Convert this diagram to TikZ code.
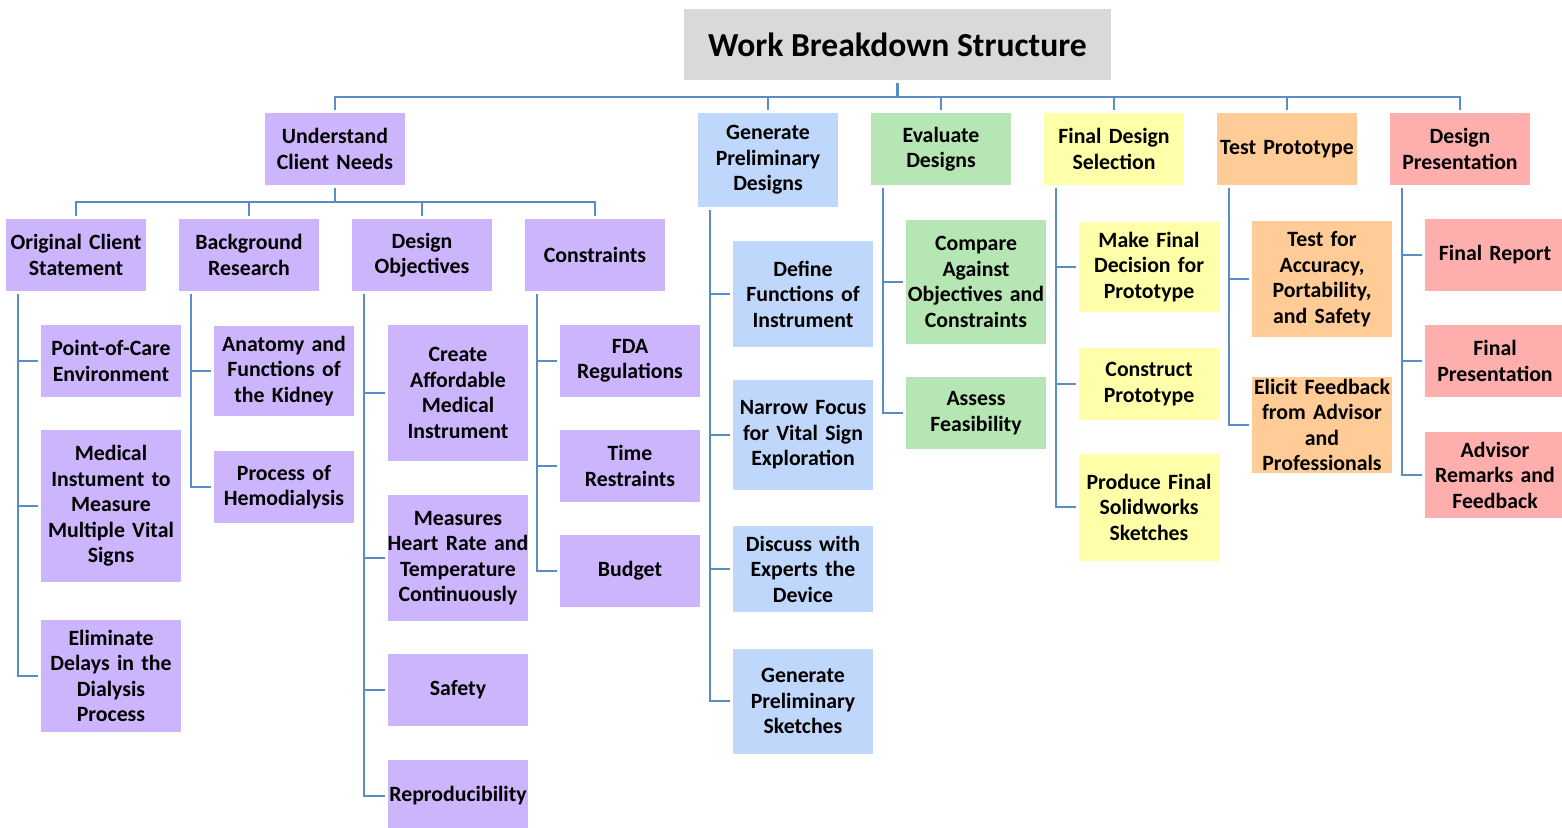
\documentclass[tikz,border=0pt]{standalone}
\usepackage{fontspec}
\setmainfont{Carlito}

\definecolor{wbsline}{HTML}{5A8DC3}
\definecolor{wbsgray}{HTML}{D9D9D9}
\definecolor{needfill}{HTML}{CCB5FD}
\definecolor{genfill}{HTML}{BFD7FB}
\definecolor{evalfill}{HTML}{B5E6B3}
\definecolor{finalfill}{HTML}{FFFFAA}
\definecolor{testfill}{HTML}{FFCB96}
\definecolor{presfill}{HTML}{FFAEAE}

\begin{document}
\begin{tikzpicture}[x=0.5pt,y=-0.5pt,
   box/.style={text width=73pt, align=center, minimum height=36pt,
     inner xsep=-1.5pt, inner ysep=5pt, outer sep=1.5pt,
     font=\fontsize{10.9}{12.75}\selectfont\bfseries},
   need/.style={box, fill=needfill},
   gen/.style={box, fill=genfill},
   eval/.style={box, fill=evalfill},
   final/.style={box, fill=finalfill},
   test/.style={box, fill=testfill},
   pres/.style={box, fill=presfill},
   link/.style={draw=wbsline, line width=1.2pt}]
   \useasboundingbox (0,0) rectangle (1562,827);

   \node[fill=wbsgray, minimum width=213.5pt, minimum height=35.5pt, outer sep=1.5pt,
     font=\fontsize{16.8}{20}\selectfont\bfseries] (wbs) at (897.5,44.5) {Work Breakdown Structure};
   \coordinate (bus) at (0,97);
   \coordinate (bus2) at (0,202);

   % first level
   \node[need] (ucn) at (335,149) {Understand\\Client Needs};
   \node[gen, minimum height=47pt] (gpd) at (768,160) {Generate\\Preliminary\\Designs};
   \node[eval] (ed) at (941,149) {Evaluate\\Designs};
   \node[final] (fds) at (1114,149) {Final Design\\Selection};
   \node[test] (tp) at (1287,149) {Test Prototype};
   \node[pres] (dp) at (1460,149) {Design\\Presentation};

   % understand client needs
   \node[need] (ocs) at (76,255) {Original Client\\Statement};
   \node[need] (br) at (249,255) {Background\\Research};
   \node[need] (do) at (422,255) {Design\\Objectives};
   \node[need] (con) at (595,255) {Constraints};

   \node[need] (poc) at (111,361) {Point-of-Care\\Environment};
   \node[need, minimum height=76pt] (mim) at (111,506) {Medical\\Instument to\\Measure\\Multiple Vital\\Signs};
   \node[need] (edd) at (111,676) {Eliminate\\Delays in the\\Dialysis\\Process};

   \node[need] (afk) at (284,371) {Anatomy and\\Functions of\\the Kidney};
   \node[need] (poh) at (284,487) {Process of\\Hemodialysis};

   \node[need, minimum height=68pt] (cami) at (458,393) {Create\\Affordable\\Medical\\Instrument};
   \node[need, minimum height=63pt] (mhr) at (458,558) {Measures\\Heart Rate and\\Temperature\\Continuously};
   \node[need] (saf) at (458,690) {Safety};
   \node[need] (rep) at (458,796) {Reproducibility};

   \node[need] (fda) at (630,361) {FDA\\Regulations};
   \node[need] (tr) at (630,466) {Time\\Restraints};
   \node[need] (bud) at (630,571) {Budget};

   % generate preliminary designs
   \node[gen, minimum height=53pt] (dfi) at (803,294) {Define\\Functions of\\Instrument};
   \node[gen, minimum height=55pt] (nf) at (803,435) {Narrow Focus\\for Vital Sign\\Exploration};
   \node[gen] (dwe) at (803,569) {Discuss with\\Experts the\\Device};
   \node[gen, minimum height=52.5pt] (gps) at (803,701) {Generate\\Preliminary\\Sketches};

   % evaluate designs
   \node[eval, minimum height=62pt] (cao) at (976,282) {Compare\\Against\\Objectives and\\Constraints};
   \node[eval] (af) at (976,413) {Assess\\Feasibility};

   % final design selection
   \node[final] (mfd) at (1149,267) {Make Final\\Decision for\\Prototype};
   \node[final] (cp) at (1149,384) {Construct\\Prototype};
   \node[final, minimum height=53.5pt] (pfs) at (1149,507) {Produce Final\\Solidworks\\Sketches};

   % test prototype
   \node[test] (tap) at (1322,279) {Test for\\Accuracy,\\Portability,\\and Safety};
   \node[test, inner ysep=1.2pt] (efa) at (1322,425) {Elicit Feedback\\from Advisor\\and\\Professionals};

   % design presentation
   \node[pres] (fr) at (1495,255) {Final Report};
   \node[pres] (fp) at (1495,361) {Final\\Presentation};
   \node[pres] (arf) at (1495,475) {Advisor\\Remarks and\\Feedback};

   % connectors
   \draw[link] (wbs.south) -- (wbs.south |- bus);
   \draw[link] (ucn.north) -- (ucn.north |- bus) -- (dp.north |- bus) -- (dp.north);
   \foreach \n in {gpd,ed,fds,tp}
     \draw[link] (\n.north) -- (\n.north |- bus);

   \draw[link] (ucn.south) -- (ucn.south |- bus2);
   \draw[link] (ocs.north) -- (ocs.north |- bus2) -- (con.north |- bus2) -- (con.north);
   \foreach \n in {br,do}
     \draw[link] (\n.north) -- (\n.north |- bus2);

   \foreach \p/\kids in {ocs/{poc,mim,edd}, br/{afk,poh}, do/{cami,mhr,saf,rep},
       con/{fda,tr,bud}, gpd/{dfi,nf,dwe,gps}, ed/{cao,af}, fds/{mfd,cp,pfs},
       tp/{tap,efa}, dp/{fr,fp,arf}}
     \foreach \c in \kids
       \draw[link] ([xshift=7.5pt]\p.south west) |- (\c.west);
\end{tikzpicture}
\end{document}
